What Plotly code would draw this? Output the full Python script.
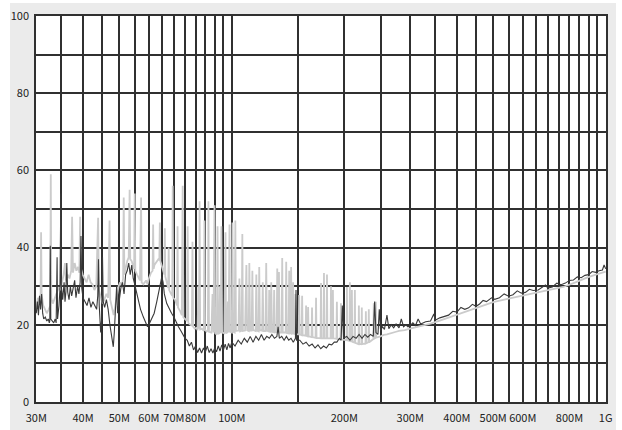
import math
import plotly.graph_objects as go

# ---- data: (frequency in MHz, level in dB) ----
DARK_TRACE = [
    (30.0, 23.0), (30.2, 26.0), (30.4, 22.5), (30.6, 27.5), (30.8, 24.0), (31.0, 28.0),
    (31.2, 23.0), (31.4, 21.5), (31.7, 22.0), (32.0, 21.0), (32.3, 21.5), (32.5, 20.5),
    (32.6, 21.0), (32.7, 40.5), (32.8, 21.5), (33.1, 21.0), (33.4, 20.5), (33.7, 21.5),
    (33.9, 20.5), (34.1, 37.5), (34.2, 21.5), (34.5, 25.0), (34.7, 29.0), (34.9, 54.0),
    (35.0, 30.0), (35.3, 26.5), (35.6, 31.0), (35.8, 26.0), (36.0, 28.5), (36.2, 36.0),
    (36.4, 28.5), (36.7, 26.5), (37.0, 30.0), (37.3, 27.5), (37.6, 29.0), (38.0, 31.5),
    (38.3, 27.0), (38.7, 30.0), (39.0, 28.0), (39.3, 31.0), (39.5, 43.0), (39.7, 29.5),
    (40.0, 27.0), (40.5, 26.0), (41.0, 25.0), (41.5, 27.0), (42.0, 24.5), (42.5, 26.0),
    (43.0, 25.0), (43.5, 24.0), (43.8, 27.5), (44.0, 37.0), (44.2, 25.0), (44.6, 18.0),
    (44.9, 22.0), (45.1, 37.5), (45.3, 26.0), (45.7, 24.5), (46.2, 26.5), (46.7, 24.0),
    (47.2, 20.0), (47.7, 17.0), (48.2, 14.3), (48.5, 18.0), (48.9, 24.0), (49.2, 30.0),
    (49.5, 23.0), (50.0, 27.0), (50.5, 29.5), (51.0, 31.0), (51.5, 28.0), (52.0, 33.0),
    (52.5, 34.0), (53.0, 36.0), (53.5, 33.0), (54.0, 35.5), (54.5, 32.0), (55.0, 30.5),
    (55.5, 29.0), (56.0, 27.0), (56.5, 25.5), (57.0, 24.0), (58.0, 22.0), (59.0, 20.5),
    (59.5, 19.5), (60.0, 20.0), (61.0, 21.5), (62.0, 23.0), (63.0, 26.0), (64.0, 29.5),
    (65.0, 32.5), (65.5, 31.0), (66.0, 28.0), (67.0, 25.5), (68.0, 24.0), (69.0, 23.0),
    (70.0, 22.0), (71.0, 20.5), (72.0, 19.5), (73.0, 18.5), (74.0, 17.5), (75.0, 16.5),
    (76.0, 16.0), (77.0, 14.5), (78.0, 15.5), (79.0, 13.5), (80.0, 14.5), (81.0, 12.8),
    (82.0, 14.0), (83.0, 12.7), (84.0, 14.0), (85.0, 13.0), (86.0, 14.5), (87.0, 12.8),
    (88.0, 13.8), (89.0, 12.7), (90.0, 14.0), (91.0, 13.0), (92.0, 14.5), (93.0, 13.2),
    (94.0, 14.8), (95.0, 13.5), (96.0, 15.0), (97.0, 13.5), (98.0, 15.2), (99.0, 14.0),
    (100.0, 15.5), (102.0, 14.5), (104.0, 16.0), (106.0, 15.0), (108.0, 16.5), (110.0, 15.5),
    (112.0, 17.0), (114.0, 15.5), (116.0, 17.0), (118.0, 16.0), (120.0, 17.5), (122.0, 16.0),
    (124.0, 17.0), (126.0, 16.5), (128.0, 17.5), (130.0, 16.5), (132.0, 17.0), (133.0, 19.5),
    (134.0, 16.5), (136.0, 17.0), (138.0, 16.0), (140.0, 17.0), (142.0, 16.0), (144.0, 16.5),
    (146.0, 15.5), (148.0, 16.5), (148.5, 29.0), (149.0, 16.0), (152.0, 16.0), (155.0, 15.0),
    (158.0, 15.5), (161.0, 14.5), (164.0, 15.0), (167.0, 14.0), (170.0, 14.8), (173.0, 13.8),
    (176.0, 14.5), (179.0, 14.0), (182.0, 15.0), (185.0, 14.8), (188.0, 15.5), (191.0, 15.5),
    (194.0, 16.5), (196.0, 16.0), (197.5, 25.0), (199.0, 16.5), (203.0, 17.0), (207.0, 16.0),
    (211.0, 17.0), (215.0, 16.5), (219.0, 17.5), (223.0, 16.5), (227.0, 17.5), (231.0, 16.8),
    (235.0, 17.5), (239.0, 17.0), (241.0, 26.0), (243.0, 18.0), (246.0, 17.5), (248.0, 24.0),
    (250.0, 18.5), (253.0, 19.5), (256.0, 18.8), (260.0, 22.5), (263.0, 19.0), (267.0, 20.0),
    (271.0, 19.2), (275.0, 20.2), (280.0, 19.2), (284.0, 21.5), (288.0, 19.5), (292.0, 20.0),
    (296.0, 19.5), (300.0, 19.8), (305.0, 20.5), (310.0, 19.8), (315.0, 21.5), (320.0, 20.2),
    (330.0, 20.8), (340.0, 21.0), (347.0, 22.8), (350.0, 21.2), (360.0, 21.8), (370.0, 22.2),
    (380.0, 22.5), (390.0, 23.5), (400.0, 23.3), (410.0, 24.5), (420.0, 24.0), (430.0, 24.4),
    (440.0, 25.3), (450.0, 24.8), (460.0, 25.4), (470.0, 26.3), (480.0, 26.0), (495.0, 27.0),
    (505.0, 26.6), (520.0, 27.0), (535.0, 28.0), (550.0, 27.4), (565.0, 27.8), (580.0, 28.8),
    (595.0, 28.2), (610.0, 28.4), (625.0, 29.2), (640.0, 28.9), (660.0, 29.0), (690.0, 30.3),
    (700.0, 29.5), (720.0, 29.8), (740.0, 30.8), (760.0, 30.4), (780.0, 30.8), (800.0, 31.5),
    (820.0, 31.6), (840.0, 32.4), (860.0, 32.2), (880.0, 32.8), (900.0, 33.0), (920.0, 33.8),
    (940.0, 33.6), (960.0, 34.0), (980.0, 34.2), (990.0, 35.5), (1000.0, 34.5),
]

LIGHT_TRACE = [
    (30.0, 24.0), (30.3, 27.0), (30.6, 25.5), (30.8, 28.0), (30.9, 44.0), (31.0, 28.0),
    (31.3, 25.0), (31.6, 24.0), (32.0, 23.0), (32.4, 24.0), (32.7, 25.0), (32.8, 59.0),
    (32.9, 27.0), (33.2, 25.5), (33.6, 27.0), (34.0, 28.0), (34.4, 29.5), (34.8, 29.0),
    (35.2, 31.0), (35.5, 33.0), (35.8, 36.0), (36.0, 31.5), (36.4, 33.0), (36.8, 32.0),
    (37.2, 34.0), (37.4, 48.0), (37.6, 33.5), (38.0, 36.0), (38.4, 34.0), (38.8, 35.0),
    (39.1, 33.5), (39.3, 48.0), (39.5, 34.5), (39.9, 33.0), (40.4, 32.0), (40.9, 31.0),
    (41.4, 33.0), (41.9, 31.0), (42.4, 30.5), (42.9, 29.0), (43.4, 30.0), (43.9, 47.7),
    (44.1, 29.0), (44.6, 27.0), (45.1, 25.5), (45.6, 26.5), (46.2, 28.0), (46.7, 27.0),
    (47.1, 47.0), (47.3, 26.5), (47.8, 24.0), (48.3, 22.5), (48.8, 25.0), (49.3, 28.0),
    (49.8, 30.0), (50.3, 31.0), (50.8, 30.0), (51.2, 32.0), (51.4, 53.0), (51.6, 33.0),
    (52.0, 35.0), (52.5, 36.5), (53.0, 37.5), (53.3, 55.0), (53.5, 37.0), (54.0, 36.5),
    (54.5, 35.0), (54.8, 34.5), (55.0, 54.0), (55.2, 34.0), (55.8, 33.0), (56.3, 32.0),
    (56.8, 31.5), (57.2, 53.0), (57.4, 31.0), (58.0, 30.5), (58.5, 31.0), (59.0, 31.5),
    (59.5, 30.5), (60.0, 32.0), (60.8, 33.5), (61.4, 34.0), (61.6, 46.0), (61.8, 34.5),
    (62.1, 35.5), (62.6, 36.0), (63.2, 36.5), (63.6, 37.0), (64.0, 36.8), (64.2, 46.5),
    (64.4, 36.5), (65.0, 35.0), (65.6, 34.0), (66.0, 33.0), (66.2, 45.0), (66.4, 32.5),
    (67.0, 31.0), (67.6, 29.5), (67.8, 40.0), (68.0, 29.0), (68.8, 28.0), (69.3, 27.5),
    (69.5, 56.0), (69.7, 27.0), (70.5, 26.5), (71.0, 25.5), (71.4, 25.0), (71.6, 45.5),
    (71.8, 24.5), (72.8, 23.5), (73.5, 22.5), (73.9, 56.0), (74.2, 22.0), (75.0, 21.5),
    (75.9, 21.0), (76.2, 45.5), (76.5, 20.5), (77.5, 20.0), (78.2, 19.8), (78.5, 41.5),
    (78.8, 19.5), (79.6, 19.0), (80.5, 19.2), (81.0, 18.6), (81.4, 30.0), (81.7, 19.0),
    (82.0, 52.0), (82.3, 18.8), (83.2, 19.0), (84.2, 18.4), (84.5, 47.0), (84.8, 18.8),
    (85.6, 18.2), (86.3, 18.5), (86.6, 52.0), (86.9, 18.2), (88.2, 18.0), (88.8, 28.0),
    (89.3, 18.0), (89.9, 51.0), (90.3, 17.8), (91.2, 17.5), (91.6, 45.5), (91.9, 17.6),
    (92.6, 17.8), (93.0, 30.0), (93.4, 17.8), (93.8, 45.5), (94.2, 18.0), (95.5, 17.8),
    (96.2, 44.0), (96.5, 17.8), (97.2, 18.0), (97.6, 26.0), (98.0, 18.0), (98.6, 46.0),
    (98.9, 18.2), (100.0, 18.0), (100.4, 46.5), (100.8, 18.2), (101.8, 18.0), (102.2, 47.0),
    (102.6, 18.4), (104.2, 18.5), (104.8, 32.0), (105.3, 18.3), (106.3, 18.5), (106.7, 43.5),
    (107.1, 18.4), (108.5, 18.5), (109.4, 35.5), (109.9, 18.6), (111.0, 18.4), (111.4, 36.0),
    (111.9, 18.5), (113.0, 18.5), (113.5, 34.0), (114.0, 18.6), (115.8, 18.4), (116.3, 33.0),
    (116.8, 18.5), (118.0, 18.3), (118.4, 35.0), (118.9, 18.6), (120.5, 18.5), (121.0, 31.0),
    (121.5, 18.4), (123.1, 18.4), (123.6, 36.0), (124.1, 18.5), (125.5, 18.3), (125.9, 29.0),
    (126.4, 18.3), (127.0, 18.2), (127.5, 31.0), (128.0, 18.3), (129.3, 18.0), (129.8, 29.0),
    (130.3, 18.0), (131.8, 18.1), (132.3, 34.6), (132.8, 18.0), (133.3, 18.2), (133.7, 33.7),
    (134.2, 18.0), (135.9, 18.0), (136.4, 37.3), (136.9, 18.0), (139.3, 18.0), (139.8, 36.3),
    (140.3, 17.9), (141.9, 17.8), (142.4, 34.0), (142.9, 17.8), (143.6, 17.9), (144.1, 35.0),
    (144.6, 17.7), (145.5, 17.8), (145.9, 31.0), (146.4, 17.7), (147.5, 17.6), (148.0, 28.0),
    (148.5, 17.6), (151.0, 17.5), (151.4, 27.7), (151.9, 17.5), (153.7, 17.3), (154.2, 27.5),
    (154.7, 17.3), (157.5, 17.2), (158.0, 25.0), (158.5, 17.1), (159.5, 17.0), (160.0, 24.6),
    (160.5, 17.0), (163.4, 16.8), (163.9, 24.5), (164.4, 16.8), (167.5, 16.6), (168.0, 27.0),
    (168.5, 16.6), (172.7, 16.5), (173.2, 30.8), (173.7, 16.5), (175.9, 16.5), (176.4, 33.4),
    (176.9, 16.5), (179.2, 16.5), (179.7, 33.0), (180.2, 16.5), (183.7, 16.5), (184.2, 30.0),
    (184.7, 16.5), (185.9, 16.5), (186.4, 29.0), (186.9, 16.5), (190.5, 16.4), (191.0, 26.0),
    (191.5, 16.3), (195.3, 16.2), (195.8, 25.6), (196.3, 16.2), (200.0, 16.0), (202.7, 16.0),
    (203.2, 29.8), (203.7, 16.0), (206.4, 15.8), (206.9, 31.0), (207.4, 15.8), (209.0, 15.7),
    (209.5, 29.0), (210.0, 15.6), (212.9, 15.4), (213.4, 29.0), (213.9, 15.3), (218.2, 15.0),
    (218.7, 25.0), (219.2, 15.0), (222.2, 15.0), (222.7, 24.5), (223.2, 15.0), (227.8, 15.2),
    (228.3, 23.5), (228.8, 15.2), (232.0, 15.5), (232.5, 24.0), (233.0, 15.5), (239.2, 16.3),
    (239.7, 25.6), (240.2, 16.4), (242.2, 16.6), (242.7, 26.0), (243.2, 16.7), (250.0, 17.0),
    (255.0, 17.4), (260.0, 17.5), (265.0, 17.8), (270.0, 18.0), (275.0, 18.2), (280.0, 18.4),
    (290.0, 18.6), (300.0, 19.0), (320.0, 19.6), (340.0, 20.3), (360.0, 21.1), (380.0, 21.9),
    (400.0, 22.6), (420.0, 23.4), (440.0, 24.0), (460.0, 24.7), (480.0, 25.3), (500.0, 25.9),
    (550.0, 26.8), (600.0, 27.6), (650.0, 28.3), (700.0, 28.9), (770.0, 29.8), (830.0, 31.0),
    (894.0, 32.3), (950.0, 33.1), (1000.0, 33.8),
]

GRID_FREQS = [30, 35, 40, 45, 50, 55, 60, 65, 70, 75, 80, 85, 90, 95, 100, 150, 200, 250,
              300, 350, 400, 450, 500, 550, 600, 650, 700, 750, 800, 850, 900, 950, 1000]
X_LABELS = {30: "30M", 40: "40M", 50: "50M", 60: "60M", 70: "70M", 80: "80M", 100: "100M",
            200: "200M", 300: "300M", 400: "400M", 500: "500M", 600: "600M", 800: "800M",
            1000: "1G"}
GRID_LEVELS = [0, 10, 20, 30, 40, 50, 60, 70, 80, 90, 100]
Y_LABELS = {0: "0", 20: "20", 40: "40", 60: "60", 80: "80", 100: "100"}

dark_f = [p[0] for p in DARK_TRACE]
dark_v = [p[1] for p in DARK_TRACE]
light_f = [p[0] for p in LIGHT_TRACE]
light_v = [p[1] for p in LIGHT_TRACE]

fig = go.Figure()
fig.add_trace(go.Scatter(x=light_f, y=light_v, mode="lines",
                         line=dict(color="#cbcbcb", width=1.8), hoverinfo="skip"))
fig.add_trace(go.Scatter(x=dark_f, y=dark_v, mode="lines",
                         line=dict(color="#3a3a3a", width=1.1), hoverinfo="skip"))

font = dict(family="Noto Sans CJK JP, DejaVu Sans", size=11, color="#222222")
eps = 0.0008
white = dict(type="rect", xref="paper", yref="paper", fillcolor="#ffffff",
             line=dict(width=0), layer="above")
fig.update_layout(
    width=622, height=430,
    margin=dict(l=36, r=16, t=16, b=28, autoexpand=False),
    paper_bgcolor="#ebebeb",
    plot_bgcolor="#ffffff",
    showlegend=False,
    font=font,
    xaxis=dict(
        type="log", range=[math.log10(30) - eps, math.log10(1000) + eps],
        tickmode="array", tickvals=GRID_FREQS,
        ticktext=[X_LABELS.get(f, "") for f in GRID_FREQS],
        tickangle=0, automargin=False,
        showgrid=True, gridcolor="#303030", gridwidth=1.5,
        showline=True, linecolor="#303030", linewidth=1.5, mirror=True,
        ticks="", zeroline=False, tickfont=font, ticklabelstandoff=5,
    ),
    yaxis=dict(
        range=[0, 100], tickmode="array", tickvals=GRID_LEVELS,
        ticktext=[Y_LABELS.get(v, "") for v in GRID_LEVELS],
        automargin=False,
        showgrid=True, gridcolor="#303030", gridwidth=1.5,
        showline=True, linecolor="#303030", linewidth=1.5, mirror=True,
        ticks="", zeroline=False, tickfont=font, ticklabelstandoff=3,
    ),
    shapes=[
        dict(white, x0=-0.2, x1=-0.0456, y0=-0.2, y1=1.2),
        dict(white, x0=1.0175, x1=1.2, y0=-0.2, y1=1.2),
        dict(white, x0=-0.2, x1=1.2, y0=1.0337, y1=1.2),
    ],
)

fig.write_html("out.html")
